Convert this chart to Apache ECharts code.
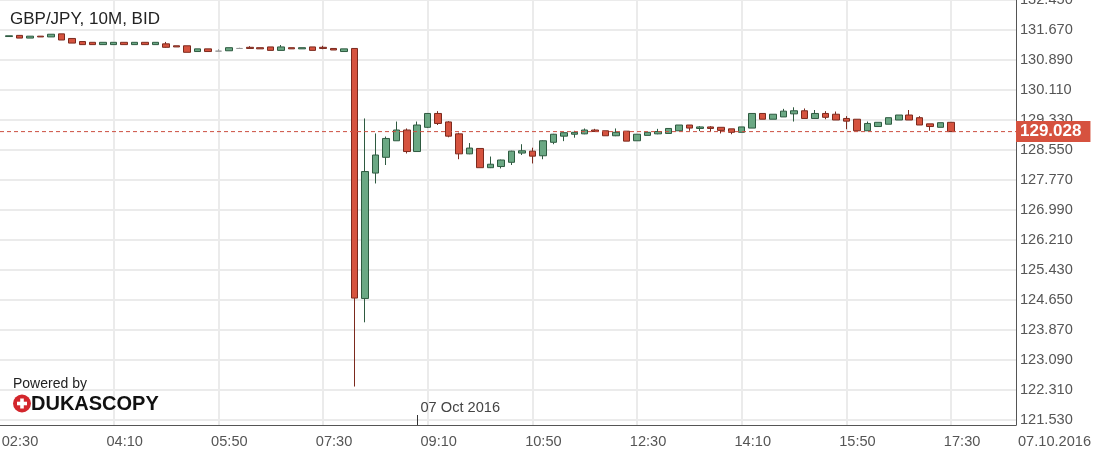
<!DOCTYPE html>
<html>
<head>
<meta charset="utf-8">
<script src="https://cdn.jsdelivr.net/npm/echarts@6/dist/echarts.min.js"></script>
<style>
html,body{margin:0;padding:0;background:#fff;}
#chart{width:1094px;height:456px;}
</style>
</head>
<body>
<div id="chart"></div>
<script>
// 10-minute candles, index 0 = 02:30
const opens = [
131.50,131.53,131.46,131.51,131.49,131.57,131.45,131.37,131.35,131.29,
131.29,131.35,131.29,131.35,131.29,131.31,131.26,131.26,131.11,131.18,
131.12,131.13,131.19,131.22,131.21,131.23,131.14,131.21,131.18,131.23,
131.22,131.19,131.11,131.19,124.69,127.95,128.36,128.79,129.07,128.51,
129.14,129.50,129.28,128.97,128.45,128.59,128.09,128.12,128.23,128.47,
128.52,128.40,128.75,128.91,128.96,128.97,129.07,129.05,128.92,129.04,
128.79,128.93,128.97,128.98,129.05,129.20,129.11,129.15,129.14,129.10,
129.01,129.12,129.50,129.35,129.41,129.49,129.57,129.37,129.50,129.48,
129.37,129.35,129.05,129.16,129.22,129.33,129.46,129.39,129.23,129.14,
129.27];
const closes = [
131.52,131.46,131.51,131.49,131.56,131.41,131.33,131.29,131.29,131.35,
131.35,131.29,131.35,131.29,131.35,131.22,131.23,131.09,131.18,131.11,
131.12,131.21,131.19,131.19,131.18,131.14,131.23,131.18,131.21,131.14,
131.19,131.15,131.18,124.70,127.99,128.42,128.85,129.07,128.51,129.20,
129.50,129.24,128.91,128.45,128.60,128.09,128.18,128.29,128.52,128.53,
128.39,128.79,128.96,129.00,129.01,129.07,129.03,128.92,129.01,128.78,
128.96,129.01,129.03,129.11,129.20,129.12,129.15,129.11,129.06,129.01,
129.15,129.50,129.35,129.48,129.56,129.57,129.37,129.50,129.40,129.33,
129.30,129.05,129.24,129.27,129.39,129.46,129.33,129.20,129.16,129.26,
129.028];
const lows = [
131.50,131.46,131.46,131.49,131.49,131.41,131.33,131.29,131.29,131.29,
131.29,131.29,131.29,131.29,131.29,131.21,131.23,131.09,131.11,131.11,
131.12,131.13,131.19,131.19,131.18,131.14,131.14,131.18,131.18,131.14,
131.17,131.15,131.11,122.40,124.07,127.68,128.16,128.79,128.46,128.51,
129.12,129.20,128.88,128.31,128.44,128.09,128.08,128.07,128.16,128.42,
128.20,128.31,128.70,128.78,128.87,128.96,129.03,128.92,128.91,128.78,
128.79,128.93,128.96,128.98,129.05,129.05,129.04,129.04,128.98,128.96,
129.01,129.12,129.35,129.35,129.41,129.29,129.37,129.37,129.35,129.33,
129.09,129.05,129.05,129.16,129.22,129.33,129.33,129.20,129.05,129.14,
129.028];
const highs = [
131.52,131.53,131.51,131.51,131.56,131.57,131.45,131.37,131.35,131.35,
131.35,131.35,131.35,131.35,131.35,131.36,131.26,131.26,131.18,131.18,
131.17,131.21,131.21,131.25,131.21,131.23,131.28,131.21,131.21,131.23,
131.26,131.19,131.18,131.19,129.37,128.98,128.90,129.29,129.11,129.29,
129.51,129.56,129.30,129.00,128.73,128.59,128.38,128.30,128.53,128.70,
128.61,128.80,128.97,129.01,129.05,129.11,129.10,129.05,129.11,129.04,
128.96,129.01,129.10,129.11,129.20,129.20,129.17,129.17,129.14,129.10,
129.15,129.50,129.50,129.48,129.62,129.66,129.63,129.59,129.56,129.55,
129.43,129.35,129.29,129.27,129.39,129.46,129.59,129.43,129.23,129.26,
129.27];
const tickIndex = [0,10,20,30,40,50,60,70,80,90];
const tickLabels = ['02:30','04:10','05:50','07:30','09:10','10:50','12:30','14:10','15:50','17:30'];
const gridIndex = [10,20,30,40,50,60,70,80,90];
const yTicks = [121.53,122.31,123.09,123.87,124.65,125.43,126.21,126.99,127.77,128.55,129.33,130.11,130.89,131.67,132.45];
const lastPrice = 129.028;
const dayMarkIndex = 39;
const dayLabel = '07 Oct 2016';
const dateText = '07.10.2016';
const title = 'GBP/JPY, 10M, BID';

const data = opens.map((o, i) => [i, o, closes[i], lows[i], highs[i]]);
const labelMap = {};
tickIndex.forEach((t, k) => { labelMap[t] = tickLabels[k]; });

const FONT = '"Liberation Sans", Arial, sans-serif';
const Y_MIN = 121.40, Y_MAX = 132.45;
const X_MIN = -0.86, X_MAX = 96.2;
const PRICE_RED = '#cc4f40';

const chart = echarts.init(document.getElementById('chart'), null, {renderer: 'canvas'});
chart.setOption({
  animation: false,
  backgroundColor: '#fff',
  grid: {left: 0, right: 78, top: 0, bottom: 31, containLabel: false, outerBoundsMode: 'none'},
  xAxis: [{
    type: 'value',
    min: X_MIN,
    max: X_MAX,
    axisLine: {show: true, onZero: false, lineStyle: {color: '#555', width: 1}},
    axisTick: {show: false, customValues: tickIndex},
    splitLine: {show: false},
    axisLabel: {
      customValues: tickIndex,
      formatter: v => labelMap[Math.round(v)] || '',
      color: '#555', fontSize: 14.6, fontFamily: FONT, margin: 9,
      padding: [0, 0, 0, 22]
    }
  }, {
    type: 'value',
    position: 'bottom',
    min: X_MIN,
    max: X_MAX,
    axisLine: {show: false, onZero: false},
    axisTick: {show: false, customValues: gridIndex},
    splitLine: {show: true, lineStyle: {color: '#ebebeb', width: 2}},
    axisLabel: {show: true, customValues: gridIndex, formatter: () => ''}
  }],
  yAxis: {
    type: 'value',
    position: 'right',
    min: Y_MIN,
    max: Y_MAX,
    scale: true,
    axisLine: {show: true, onZero: false, lineStyle: {color: '#555', width: 1}},
    axisTick: {show: false, customValues: yTicks},
    splitLine: {show: true, lineStyle: {color: '#ebebeb', width: 2}},
    axisLabel: {
      customValues: yTicks,
      formatter: v => v.toFixed(3),
      color: '#555', fontSize: 14.6, fontFamily: FONT, margin: 4
    }
  },
  graphic: [
    {type: 'text', left: 10, top: 11, z: 100, style: {text: title, fontSize: 17, fontFamily: FONT, fill: '#222'}},
    {type: 'text', left: 13, top: 377, z: 100, style: {text: 'Powered by', fontSize: 14, fontFamily: FONT, fill: '#222'}},
    {type: 'circle', z: 100, shape: {cx: 22, cy: 403.5, r: 9}, style: {fill: '#d3262c'}},
    {type: 'rect', z: 101, shape: {x: 17, y: 401.7, width: 10, height: 3.6}, style: {fill: '#fff'}},
    {type: 'rect', z: 101, shape: {x: 20.2, y: 398.5, width: 3.6, height: 10}, style: {fill: '#fff'}},
    {type: 'text', left: 31, top: 394, z: 100, style: {text: 'DUKASCOPY', fontSize: 20, fontWeight: 900, fontFamily: FONT, fill: '#111'}},
    {type: 'text', left: 1018, top: 434, z: 100, style: {text: dateText, fontSize: 14.6, fontFamily: FONT, fill: '#555'}}
  ],
  series: [{
    type: 'candlestick',
    xAxisIndex: 0,
    encode: {x: 0, y: [1, 2, 3, 4]},
    data: data,
    barWidth: 7,
    itemStyle: {
      color: '#6ba884', color0: '#d6533f',
      borderColor: '#2e5a40', borderColor0: '#7c2a1e',
      borderColorDoji: '#999', borderWidth: 1
    },
    markLine: {
      silent: true,
      symbol: 'none',
      animation: false,
      data: [
        [
          {coord: [dayMarkIndex, Y_MIN], lineStyle: {color: '#333', type: 'solid', width: 1},
           label: {show: true, position: 'end', distance: 0, formatter: dayLabel,
                   color: '#444', fontSize: 14.6, fontFamily: FONT, padding: [0, 0, 0, 86]}},
          {coord: [dayMarkIndex, Y_MIN + 0.26]}
        ]
      ]
    }
  }, {
    type: 'line',
    xAxisIndex: 0,
    data: [[X_MIN, lastPrice], [X_MAX, lastPrice]],
    symbol: 'none',
    silent: true,
    z: 5,
    lineStyle: {color: PRICE_RED, type: [4, 3], width: 1},
    endLabel: {
      show: true, distance: 0,
      formatter: () => lastPrice.toFixed(3),
      color: '#fff', fontWeight: 'bold', fontSize: 17, fontFamily: FONT,
      backgroundColor: '#d6523f', padding: [2, 9, 1, 4], lineHeight: 18
    }
  }]
});
</script>
</body>
</html>
